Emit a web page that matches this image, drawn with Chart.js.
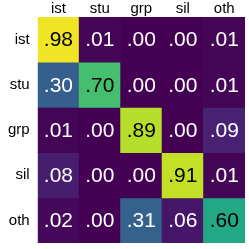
<!DOCTYPE html>
<html>
<head>
<meta charset="utf-8">
<script src="https://cdn.jsdelivr.net/npm/chart.js@4"></script>
<style>
  body { margin: 0; background: #fff; }
  #c { display: block; }
</style>
</head>
<body>
<canvas id="c" width="249" height="249" style="width:249px;height:249px"></canvas>
<script>
// confusion matrix, rows = true class, cols = predicted
const colLabels = ['ist', 'stu', 'grp', 'sil', 'oth'];
const rowLabels = ['ist', 'stu', 'grp', 'sil', 'oth'];
const rowIst = [0.98, 0.01, 0.00, 0.00, 0.01];
const rowStu = [0.30, 0.70, 0.00, 0.00, 0.01];
const rowGrp = [0.01, 0.00, 0.89, 0.00, 0.09];
const rowSil = [0.08, 0.00, 0.00, 0.91, 0.01];
const rowOth = [0.02, 0.00, 0.31, 0.06, 0.60];
const rows = [rowIst, rowStu, rowGrp, rowSil, rowOth];

// viridis stops
const viridis = ['#440154', '#482475', '#414487', '#355f8d', '#2a788e', '#21918c',
                 '#22a884', '#44bf70', '#7ad151', '#bddf26', '#fde725'];
function hex(h) { return [1, 3, 5].map(i => parseInt(h.substr(i, 2), 16)); }
function cmap(v) {
  v = Math.max(0, Math.min(1, v));
  const p = v * 10, i = Math.min(9, Math.floor(p)), t = p - i;
  const a = hex(viridis[i]), b = hex(viridis[i + 1]);
  const c = a.map((x, k) => Math.round(x + (b[k] - x) * t));
  return 'rgb(' + c.join(',') + ')';
}
function fmt(v) { return v.toFixed(2).replace(/^0/, ''); }

const FONT = '"Liberation Sans", Arial, sans-serif';

const datasets = rows.map((r, i) => ({
  label: rowLabels[i],
  data: r.map(() => 1),
  values: r,
  backgroundColor: r.map(cmap),
  borderWidth: 0,
  barPercentage: 1,
  categoryPercentage: 1
}));

const cellText = {
  id: 'cellText',
  afterDatasetsDraw(chart) {
    const ctx = chart.ctx;
    ctx.save();
    ctx.font = '21px ' + FONT;
    ctx.textAlign = 'center';
    ctx.textBaseline = 'middle';
    chart.data.datasets.forEach((ds, i) => {
      chart.getDatasetMeta(i).data.forEach((bar, j) => {
        const v = ds.values[j];
        ctx.fillStyle = v > 0.5 ? '#000' : '#fff';
        ctx.fillText(fmt(v), bar.x, (bar.y + bar.base) / 2 + 1);
      });
    });
    ctx.restore();
  }
};

new Chart(document.getElementById('c'), {
  type: 'bar',
  data: { labels: colLabels, datasets: datasets },
  plugins: [cellText],
  options: {
    responsive: false,
    animation: false,
    layout: { padding: { top: 0, right: 4, bottom: 6, left: 0 } },
    plugins: { legend: { display: false }, tooltip: { enabled: false } },
    scales: {
      x: {
        position: 'top',
        stacked: true,
        grid: { display: false, drawTicks: false },
        border: { display: false },
        ticks: { color: '#000', padding: 1, font: { size: 15, lineHeight: 1.0, family: FONT } },
        afterFit: s => { s.paddingLeft = 0; s.paddingRight = 0; }
      },
      y: {
        stacked: true,
        reverse: true,
        min: 0,
        max: 5,
        grid: { display: false, drawTicks: false },
        border: { display: false },
        afterBuildTicks: s => { s.ticks = rowLabels.map((l, i) => ({ value: i + 0.5 })); },
        ticks: {
          color: '#000',
          padding: 8,
          font: { size: 15, family: FONT },
          callback: (v, idx) => rowLabels[idx]
        },
        afterFit: s => { s.paddingTop = 0; s.paddingBottom = 0; }
      }
    }
  }
});
</script>
</body>
</html>
